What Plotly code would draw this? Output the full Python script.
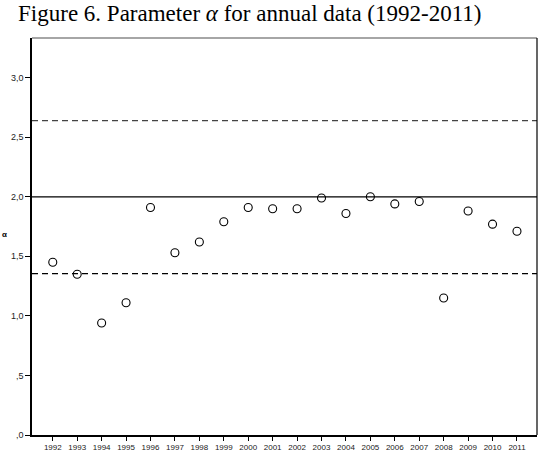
import plotly.graph_objects as go

years = list(range(1992, 2012))
alpha = [1.45, 1.35, 0.94, 1.11, 1.91, 1.53, 1.62, 1.79, 1.91, 1.90,
         1.90, 1.99, 1.86, 2.00, 1.94, 1.96, 1.15, 1.88, 1.77, 1.71]
upper_limit = 2.64
center_line = 2.0
lower_limit = 1.355
y_ticks = [0, 0.5, 1.0, 1.5, 2.0, 2.5, 3.0]
y_tick_labels = [",0", ",5", "1,0", "1,5", "2,0", "2,5", "3,0"]

fig = go.Figure()
fig.add_trace(go.Scatter(
    x=years, y=alpha, mode="markers",
    marker=dict(symbol="circle-open", size=8, color="black", line=dict(width=1.1)),
    showlegend=False, cliponaxis=False))

fig.add_hline(y=upper_limit, line=dict(color="#444", width=1.2, dash="6px,4px"))
fig.add_hline(y=center_line, line=dict(color="black", width=1.2))
fig.add_hline(y=lower_limit, line=dict(color="black", width=1.2, dash="6px,4px"))

# top and right frame lines
fig.add_shape(type="line", xref="paper", yref="paper", x0=0, x1=1, y0=1, y1=1,
              line=dict(color="#888", width=1.5))
fig.add_shape(type="line", xref="paper", yref="paper", x0=1, x1=1, y0=0, y1=1,
              line=dict(color="black", width=1.2))

fig.update_layout(
    width=543, height=458,
    margin=dict(l=32, r=6, t=38, b=20),
    paper_bgcolor="white", plot_bgcolor="white",
    title=dict(text="Figure 6. Parameter <i>α</i> for annual data (1992-2011)",
               xref="container", x=0.46, xanchor="center",
               yref="container", y=1 - 13 / 458, yanchor="middle",
               font=dict(family="Liberation Serif, Times New Roman, serif", size=23, color="black")),
    font=dict(family="Liberation Sans, Arial, sans-serif", color="#222"),
)
fig.update_xaxes(range=[1991.15, 2011.82], tickmode="array", tickvals=years,
                 ticktext=[str(y) for y in years], ticks="outside", ticklen=4,
                 tickcolor="black", showgrid=False, zeroline=False,
                 showline=True, linecolor="black", linewidth=1.5,
                 tickfont=dict(size=8, color="#222"), tickangle=0)
fig.update_yaxes(range=[0, 3.333], tickmode="array", tickvals=y_ticks,
                 ticktext=y_tick_labels, ticks="outside", ticklen=5,
                 tickcolor="black", showgrid=False, zeroline=False,
                 showline=True, linecolor="black", linewidth=1.5,
                 tickfont=dict(size=9, color="#222"))

fig.add_annotation(text="<b>α</b>", xref="paper", yref="paper", x=-0.063, y=0.505,
                   xanchor="left", showarrow=False,
                   font=dict(size=8, color="black"))

fig.write_html("out.html")
